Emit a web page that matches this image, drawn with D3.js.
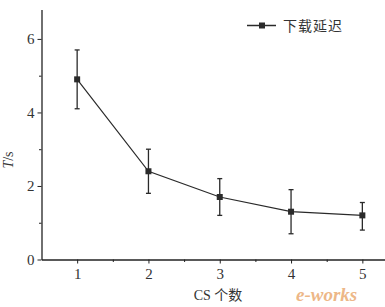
<!DOCTYPE html>
<html>
<head>
<meta charset="utf-8">
<script src="https://cdn.jsdelivr.net/npm/d3@7"></script>
<style>
	body { margin: 0; background: #fff; }
	svg { display: block; }
	.axis path, .axis line { stroke: #222; }
	.axis text { font-family: "Liberation Serif", "DejaVu Serif", serif; font-size: 15px; fill: #333; }
</style>
</head>
<body>
<svg width="385" height="307"></svg>
<script>
	// CS count vs download delay
	var csCount = [1, 2, 3, 4, 5];
	var delay = [4.9, 2.4, 1.7, 1.3, 1.2];
	var errLow = [4.1, 1.8, 1.2, 0.7, 0.8];
	var errHigh = [5.7, 3.0, 2.2, 1.9, 1.55];
	var yTicks = [0, 2, 4, 6];
	var yMinor = [1, 3, 5];
	var xMinor = [1.5, 2.5, 3.5, 4.5, 5.5];
	var seriesName = "下载延迟";

	var svg = d3.select("svg");
	var x = d3.scaleLinear().domain([0.5, 5.5]).range([41.5, 398]);
	var y = d3.scaleLinear().domain([0, 6.8]).range([259.5, 9.5]);

	var data = csCount.map(function(c, i) {
		return { x: c, y: delay[i], lo: errLow[i], hi: errHigh[i] };
	});

	// minor ticks
	svg.append("g").attr("class", "axis")
		.attr("transform", "translate(0," + y(0) + ")")
		.call(d3.axisBottom(x).tickValues(xMinor).tickSize(2.5).tickFormat(""))
		.select(".domain").remove();
	svg.append("g").attr("class", "axis")
		.attr("transform", "translate(" + x(0.5) + ",0)")
		.call(d3.axisLeft(y).tickValues(yMinor).tickSize(2.5).tickFormat(""))
		.select(".domain").remove();

	// major axes
	svg.append("g").attr("class", "axis")
		.attr("transform", "translate(0," + y(0) + ")")
		.call(d3.axisBottom(x).tickValues(csCount).tickFormat(d3.format("d"))
			.tickSize(4).tickSizeOuter(0).tickPadding(5))
		.select(".domain").attr("stroke-width", 1.3);
	svg.append("g").attr("class", "axis")
		.attr("transform", "translate(" + x(0.5) + ",0)")
		.call(d3.axisLeft(y).tickValues(yTicks).tickFormat(d3.format("d"))
			.tickSize(4).tickSizeOuter(0).tickPadding(3))
		.select(".domain").attr("stroke-width", 1.3);

	// line
	svg.append("path")
		.datum(data)
		.attr("fill", "none")
		.attr("stroke", "#2a2a2a")
		.attr("stroke-width", 1.2)
		.attr("d", d3.line().x(function(d) { return x(d.x); }).y(function(d) { return y(d.y); }));

	// error bars
	var eb = svg.append("g").attr("stroke", "#2a2a2a").attr("stroke-width", 1.3);
	eb.selectAll(".v").data(data).enter().append("line")
		.attr("x1", function(d) { return x(d.x); })
		.attr("x2", function(d) { return x(d.x); })
		.attr("y1", function(d) { return y(d.lo); })
		.attr("y2", function(d) { return y(d.hi); });
	eb.selectAll(".hi").data(data).enter().append("line")
		.attr("x1", function(d) { return x(d.x) - 2.5; })
		.attr("x2", function(d) { return x(d.x) + 2.5; })
		.attr("y1", function(d) { return y(d.hi); })
		.attr("y2", function(d) { return y(d.hi); });
	eb.selectAll(".lo").data(data).enter().append("line")
		.attr("x1", function(d) { return x(d.x) - 2.5; })
		.attr("x2", function(d) { return x(d.x) + 2.5; })
		.attr("y1", function(d) { return y(d.lo); })
		.attr("y2", function(d) { return y(d.lo); });

	// markers
	svg.selectAll(".pt").data(data).enter().append("rect")
		.attr("x", function(d) { return x(d.x) - 3; })
		.attr("y", function(d) { return y(d.y) - 3; })
		.attr("width", 6).attr("height", 6)
		.attr("fill", "#2a2a2a");

	// legend
	var lg = svg.append("g").attr("transform", "translate(247,25.5)");
	lg.append("line").attr("x1", 0).attr("x2", 29).attr("stroke", "#2a2a2a").attr("stroke-width", 1.5);
	lg.append("rect").attr("x", 12).attr("y", -3).attr("width", 6).attr("height", 6).attr("fill", "#2a2a2a");
	lg.append("text").attr("x", 36).attr("y", 5.5)
		.attr("font-family", "Noto Sans CJK SC").attr("font-size", 14).attr("fill", "#333")
		.attr("letter-spacing", 1)
		.text(seriesName);

	// axis titles
	var yt = svg.append("text")
		.attr("transform", "translate(13,160) rotate(-90)")
		.attr("text-anchor", "middle")
		.attr("font-family", "Liberation Serif").attr("font-size", 14).attr("fill", "#333");
	yt.append("tspan").attr("font-style", "italic").text("T");
	yt.append("tspan").text("/s");

	var xt = svg.append("text")
		.attr("x", 218).attr("y", 300)
		.attr("text-anchor", "middle")
		.attr("font-size", 14).attr("fill", "#333");
	xt.append("tspan").attr("font-family", "Liberation Serif").text("CS ");
	xt.append("tspan").attr("font-family", "Noto Sans CJK SC").text("个数");

	// watermark
	svg.append("text")
		.attr("x", 296).attr("y", 301)
		.attr("font-family", "Liberation Serif").attr("font-style", "italic").attr("font-weight", "bold")
		.attr("font-size", 19).attr("fill", "#e8a060").attr("opacity", 0.75)
		.text("e-works");
</script>
</body>
</html>
